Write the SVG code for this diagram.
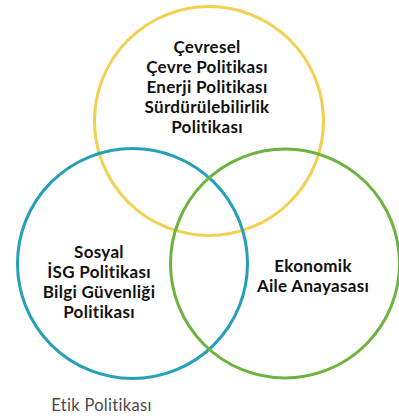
<svg xmlns="http://www.w3.org/2000/svg" width="399" height="416" viewBox="0 0 399 416">
<style>
.c{fill:none;stroke-width:3}
.t{font-family:Lato,"Noto Sans",sans-serif;font-weight:bold;font-size:17px;letter-spacing:0.3px;fill:#111;text-anchor:middle}
.g{font-family:Lato,"Noto Sans",sans-serif;font-weight:normal;font-size:16.5px;letter-spacing:0.3px;fill:#4a4a4a;text-anchor:middle}
</style>
<rect width="399" height="416" fill="#fff"/>
<g id="cevresel">
<circle class="c" cx="209" cy="121" r="114.5" stroke="#F2D052"/>
<text class="t" x="207" y="53">Çevresel</text>
<text class="t" x="207" y="73">Çevre Politikası</text>
<text class="t" x="207" y="93">Enerji Politikası</text>
<text class="t" x="207" y="113">Sürdürülebilirlik</text>
<text class="t" x="207" y="133">Politikası</text>
</g>
<g id="sosyal">
<circle class="c" cx="132.5" cy="263.5" r="115" stroke="#25A0B6"/>
<text class="t" x="99" y="258">Sosyal</text>
<text class="t" x="99" y="278">İSG Politikası</text>
<text class="t" x="99" y="298">Bilgi Güvenliği</text>
<text class="t" x="99" y="318">Politikası</text>
</g>
<g id="ekonomik">
<circle class="c" cx="285" cy="263.5" r="114.5" stroke="#6DB33F"/>
<text class="t" x="313" y="271.5">Ekonomik</text>
<text class="t" x="313" y="291.5">Aile Anayasası</text>
</g>
<g id="etik">
<text class="g" x="101.5" y="411">Etik Politikası</text>
</g>
<g id="connectors"/>
</svg>
